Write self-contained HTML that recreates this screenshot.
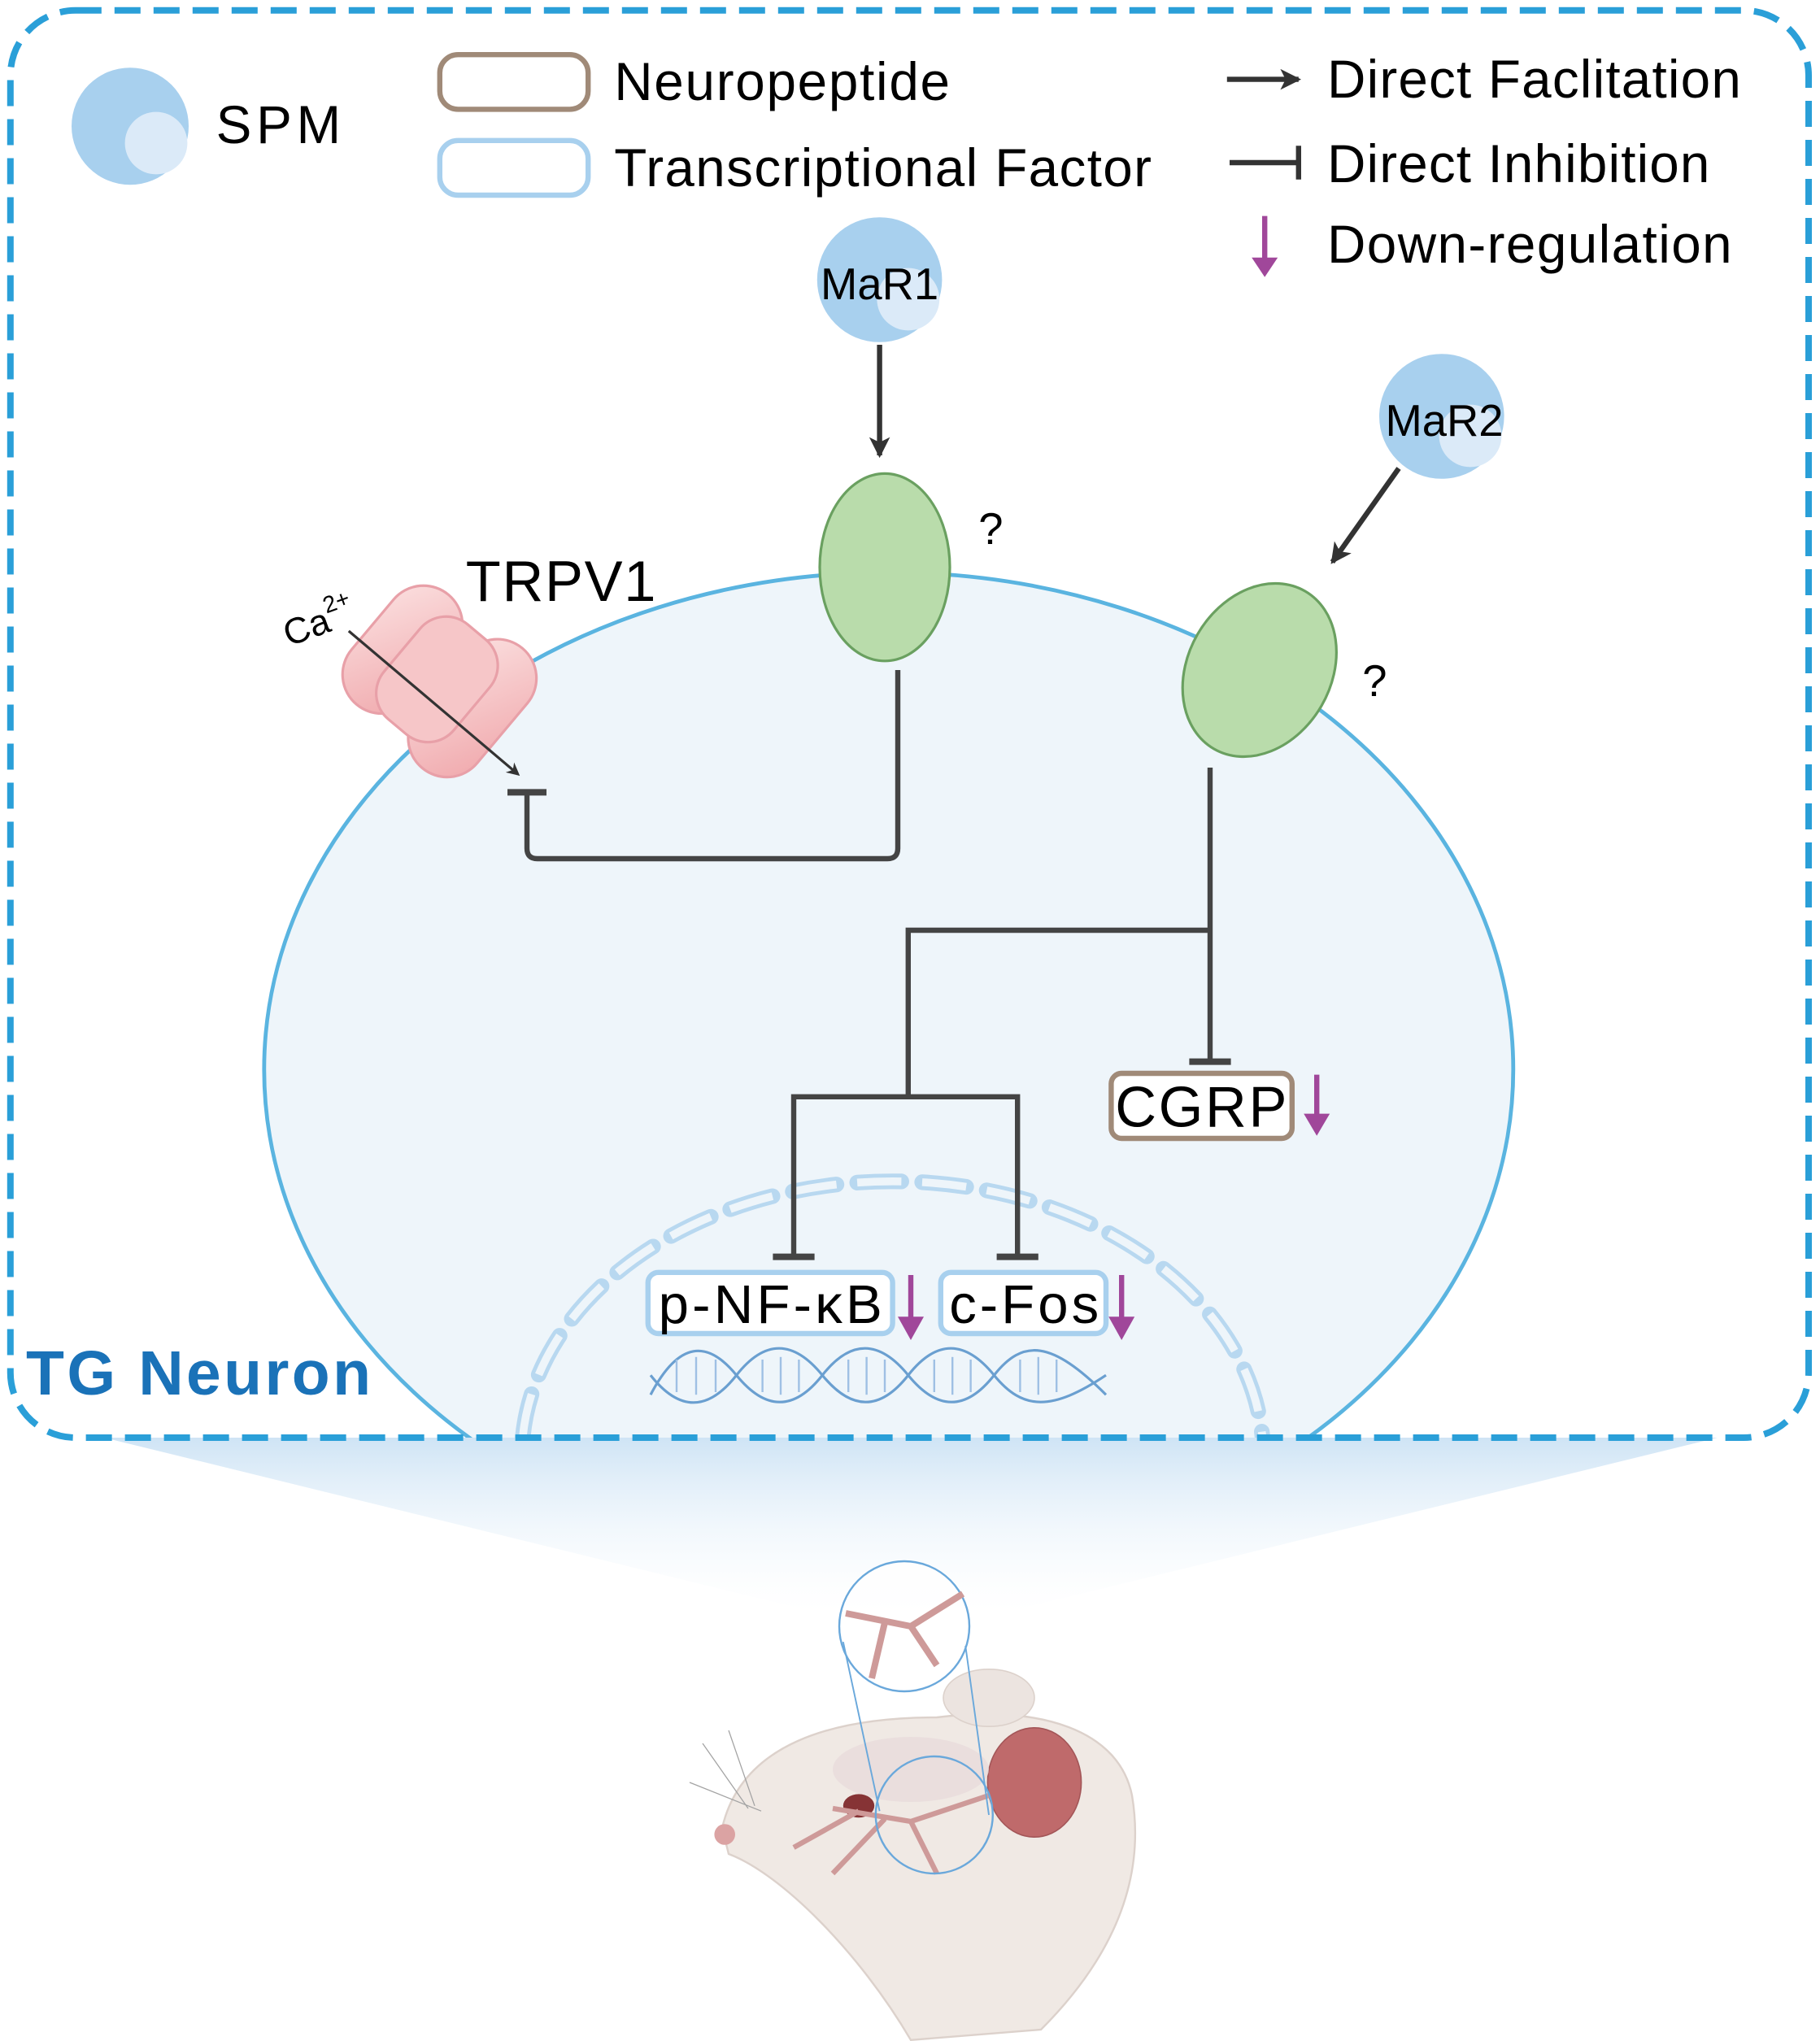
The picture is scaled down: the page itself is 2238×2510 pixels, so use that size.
<!DOCTYPE html>
<html><head><meta charset="utf-8"><style>
html,body{margin:0;padding:0;background:#fff}
svg{display:block}
text{font-family:"Liberation Sans",sans-serif}
</style></head><body>
<svg width="2238" height="2510" viewBox="0 0 1398.75 1568.75" xmlns="http://www.w3.org/2000/svg">
<defs>
<marker id="ah" markerWidth="10" markerHeight="10" refX="8" refY="5" orient="auto" markerUnits="userSpaceOnUse">
<path d="M0,0 L10,5 L0,10 L3,5 Z" fill="#333"/></marker>
<marker id="ahs" markerWidth="16" markerHeight="16" refX="14" refY="8" orient="auto" markerUnits="userSpaceOnUse">
<path d="M0,0 L16,8 L0,16 L4,8 Z" fill="#333"/></marker>
<linearGradient id="beam" x1="0" y1="0" x2="0" y2="1">
<stop offset="0" stop-color="#cfe4f5"/><stop offset="1" stop-color="#ffffff" stop-opacity="0.2"/></linearGradient>
<clipPath id="boxclip"><rect x="8" y="8" width="1382" height="1097" rx="50"/></clipPath>
<linearGradient id="pink" x1="0" y1="0" x2="1" y2="1"><stop offset="0" stop-color="#fbe0e0"/><stop offset="1" stop-color="#f0a8ac"/></linearGradient>
</defs>

<polygon points="80,1105 1320,1105 770,1240 630,1240" fill="url(#beam)"/>

<g clip-path="url(#boxclip)">
<ellipse cx="683" cy="822" rx="480" ry="382" fill="#eef5fa" stroke="#5ab4e0" stroke-width="3"/>
<ellipse cx="686" cy="1120" rx="285" ry="212" fill="none" stroke="#b8d8f0" stroke-width="12" stroke-dasharray="34 16" stroke-linecap="round"/>
<ellipse cx="686" cy="1120" rx="285" ry="212" fill="none" stroke="#eef5fa" stroke-width="6" stroke-dasharray="34 16"/>
</g>

<rect x="8" y="8" width="1382" height="1097" rx="50" fill="none" stroke="#2a9fd8" stroke-width="5" stroke-dasharray="20 10"/>

<circle cx="100" cy="97" r="45" fill="#a8d0ee"/>
<circle cx="120" cy="110" r="24" fill="#dbeaf8"/>
<text x="166" y="110" font-size="41" textLength="96">SPM</text>
<rect x="338" y="42" width="114" height="42" rx="14" fill="none" stroke="#a08a78" stroke-width="4"/>
<text x="472" y="77" font-size="41" textLength="258">Neuropeptide</text>
<rect x="338" y="108" width="114" height="42" rx="14" fill="none" stroke="#a8d0ee" stroke-width="4"/>
<text x="472" y="143" font-size="41" textLength="413">Transcriptional Factor</text>
<line x1="943" y1="61" x2="998" y2="61" stroke="#333" stroke-width="4" marker-end="url(#ahs)"/>
<text x="1020" y="75" font-size="41" textLength="318">Direct Faclitation</text>
<line x1="945" y1="125" x2="998" y2="125" stroke="#333" stroke-width="4"/>
<line x1="998" y1="112" x2="998" y2="138" stroke="#333" stroke-width="4"/>
<text x="1020" y="140" font-size="41" textLength="294">Direct Inhibition</text>
<line x1="972" y1="166" x2="972" y2="205" stroke="#a0479a" stroke-width="4"/>
<path d="M962,198 L972,213 L982,198 Z" fill="#a0479a"/>
<text x="1020" y="202" font-size="41" textLength="311">Down-regulation</text>

<circle cx="676" cy="215" r="48" fill="#a8d0ee"/>
<circle cx="698" cy="230" r="24" fill="#dbeaf8"/>
<text x="676" y="230" font-size="34" text-anchor="middle">MaR1</text>
<line x1="676" y1="265" x2="676" y2="350" stroke="#333" stroke-width="4" marker-end="url(#ahs)"/>
<ellipse cx="680" cy="436" rx="50" ry="72" fill="#b9dcab" stroke="#6aa060" stroke-width="2"/>
<text x="752" y="418" font-size="34">?</text>

<circle cx="1108" cy="320" r="48" fill="#a8d0ee"/>
<circle cx="1130" cy="335" r="24" fill="#dbeaf8"/>
<text x="1110" y="335" font-size="34" text-anchor="middle">MaR2</text>
<line x1="1075" y1="360" x2="1024" y2="432" stroke="#333" stroke-width="4" marker-end="url(#ahs)"/>
<ellipse cx="968" cy="515" rx="55" ry="70" transform="rotate(30 968 515)" fill="#b9dcab" stroke="#6aa060" stroke-width="2"/>
<text x="1047" y="535" font-size="34">?</text>

<g transform="rotate(40 340 525)">
<rect x="270" y="470" width="60" height="110" rx="30" fill="url(#pink)" stroke="#e8a0a8" stroke-width="2"/>
<rect x="340" y="465" width="60" height="120" rx="30" fill="url(#pink)" stroke="#e8a0a8" stroke-width="2"/>
<rect x="300" y="478" width="70" height="95" rx="26" fill="#f6c6c8" stroke="#e8a0a8" stroke-width="2"/>
</g>
<text x="358" y="462" font-size="44" textLength="146">TRPV1</text>
<text x="222" y="497" font-size="28" transform="rotate(-20 222 497)">Ca<tspan font-size="18" dy="-14">2+</tspan></text>
<line x1="268" y1="485" x2="398" y2="595" stroke="#333" stroke-width="2" marker-end="url(#ah)"/>

<path d="M690,515 L690,652 Q690,660 682,660 L413,660 Q405,660 405,652 L405,610" fill="none" stroke="#444" stroke-width="4"/>
<line x1="390" y1="609" x2="420" y2="609" stroke="#444" stroke-width="5"/>

<path d="M930,590 L930,815" fill="none" stroke="#444" stroke-width="4"/>
<line x1="914" y1="816" x2="946" y2="816" stroke="#444" stroke-width="5"/>
<path d="M930,715 L698,715 L698,843 M610,965 L610,843 L782,843 L782,965" fill="none" stroke="#444" stroke-width="4"/>
<line x1="594" y1="966" x2="626" y2="966" stroke="#444" stroke-width="5"/>
<line x1="766" y1="966" x2="798" y2="966" stroke="#444" stroke-width="5"/>

<rect x="854" y="825" width="139" height="50" rx="8" fill="#fff" stroke="#a08a78" stroke-width="4"/>
<text x="923" y="866" font-size="44" text-anchor="middle" textLength="132">CGRP</text>
<line x1="1012" y1="826" x2="1012" y2="862" stroke="#a0479a" stroke-width="4"/>
<path d="M1002,856 L1012,873 L1022,856 Z" fill="#a0479a"/>

<rect x="498" y="978" width="188" height="47" rx="8" fill="#fff" stroke="#a8d0ee" stroke-width="4"/>
<text x="592" y="1017" font-size="42" text-anchor="middle" textLength="172">p-NF-κB</text>
<line x1="700" y1="980" x2="700" y2="1018" stroke="#a0479a" stroke-width="4"/>
<path d="M690,1012 L700,1030 L710,1012 Z" fill="#a0479a"/>
<rect x="723" y="978" width="127" height="47" rx="8" fill="#fff" stroke="#a8d0ee" stroke-width="4"/>
<text x="787" y="1017" font-size="42" text-anchor="middle" textLength="115">c-Fos</text>
<line x1="862" y1="980" x2="862" y2="1018" stroke="#a0479a" stroke-width="4"/>
<path d="M852,1012 L862,1030 L872,1012 Z" fill="#a0479a"/>

<g fill="none" stroke="#6a9fd0" stroke-width="2">
<path d="M500,1072 C522,1030 544,1030 566,1057 S610,1085 632,1057 S676,1030 698,1057 S742,1085 764,1057 S808,1030 850,1072"/>
<path d="M500,1057 C522,1085 544,1085 566,1057 S610,1030 632,1057 S676,1085 698,1057 S742,1030 764,1057 S808,1085 850,1057"/>
</g>
<g stroke="#9fc0e4" stroke-width="1.5">
<line x1="520" y1="1045" x2="520" y2="1070"/><line x1="535" y1="1043" x2="535" y2="1072"/><line x1="550" y1="1045" x2="550" y2="1070"/>
<line x1="586" y1="1045" x2="586" y2="1070"/><line x1="600" y1="1043" x2="600" y2="1072"/><line x1="614" y1="1045" x2="614" y2="1070"/>
<line x1="652" y1="1045" x2="652" y2="1070"/><line x1="666" y1="1043" x2="666" y2="1072"/><line x1="680" y1="1045" x2="680" y2="1070"/>
<line x1="718" y1="1045" x2="718" y2="1070"/><line x1="732" y1="1043" x2="732" y2="1072"/><line x1="746" y1="1045" x2="746" y2="1070"/>
<line x1="784" y1="1045" x2="784" y2="1070"/><line x1="798" y1="1043" x2="798" y2="1072"/><line x1="812" y1="1045" x2="812" y2="1070"/>
</g>

<text x="20" y="1072" font-size="48" font-weight="bold" fill="#1a72b8" textLength="265">TG Neuron</text>

<g opacity="0.9">
<path d="M555,1405 C570,1340 640,1320 720,1320 C800,1310 860,1330 870,1380 C880,1440 860,1500 800,1560 L700,1568 C660,1500 600,1440 560,1425 Z" fill="#efe7e2" stroke="#d9cdc6" stroke-width="1.5"/>
<ellipse cx="760" cy="1305" rx="35" ry="22" fill="#ebe2dd" stroke="#d9cdc6"/>
<ellipse cx="795" cy="1370" rx="36" ry="42" fill="#b95a5c" stroke="#9a4446"/>
<ellipse cx="700" cy="1360" rx="60" ry="25" fill="#e6d8d8" opacity="0.8"/>
<ellipse cx="660" cy="1388" rx="12" ry="9" fill="#7a1e20"/>
<circle cx="557" cy="1410" r="8" fill="#d89a9a"/>
<path d="M640,1390 L700,1400 L760,1380 M660,1392 L610,1420 M680,1398 L640,1440 M700,1400 L720,1440" fill="none" stroke="#c9908e" stroke-width="4"/>
<circle cx="718" cy="1395" r="45" fill="none" stroke="#5a9fd8" stroke-width="1.5"/>
<circle cx="695" cy="1250" r="50" fill="#fff" stroke="#5a9fd8" stroke-width="1.5"/>
<path d="M650,1240 L700,1250 L740,1225 M680,1247 L670,1290 M700,1250 L720,1280" fill="none" stroke="#c9908e" stroke-width="5"/>
<line x1="648" y1="1262" x2="676" y2="1392" stroke="#5a9fd8" stroke-width="1.2"/>
<line x1="742" y1="1265" x2="760" y2="1395" stroke="#5a9fd8" stroke-width="1.2"/>
<g stroke="#9a9a9a" stroke-width="0.8"><line x1="575" y1="1390" x2="540" y2="1340"/><line x1="580" y1="1388" x2="560" y2="1330"/><line x1="585" y1="1392" x2="530" y2="1370"/></g>
</g>
</svg>
</body></html>
